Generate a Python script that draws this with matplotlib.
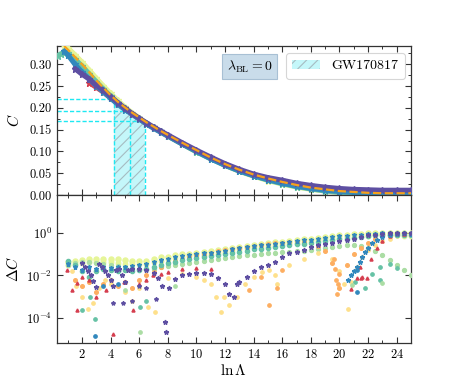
import numpy as np
import matplotlib
matplotlib.use('Agg')
import matplotlib.pyplot as plt
from matplotlib.ticker import MultipleLocator, AutoMinorLocator, FixedLocator, NullLocator, FormatStrFormatter
from matplotlib.patches import Patch

plt.rcParams.update({'font.family': 'serif', 'font.serif': ['cmr10'],
                     'mathtext.fontset': 'cm', 'axes.formatter.use_mathtext': True,
                     'axes.unicode_minus': False, 'hatch.linewidth': 0.8})
nan = np.nan

# ---------------- top panel data: C vs ln Lambda ----------------
xt = [0.3, 0.5, 0.75, 1.0, 1.5, 2.0, 2.5, 3.0, 3.5, 4.0, 4.5, 5.0, 5.5, 6.0, 6.5, 7.0, 7.5, 8.0,
      9.0, 10, 11, 12, 13, 14, 15, 16, 17, 18, 19, 20, 21, 22, 23, 24, 25]
c_fit = [nan, nan, 0.342, 0.334, 0.317, 0.300, 0.282, 0.263, 0.246, 0.229, 0.214, 0.201, 0.189, 0.178,
         0.167, 0.157, 0.147, 0.138, 0.120, 0.103, 0.086, 0.071, 0.058, 0.047, 0.038, 0.030, 0.023,
         0.017, 0.013, 0.009, 0.007, 0.005, 0.004, 0.004, 0.004]
c_yellowgreen = [nan, nan, 0.343, 0.338, 0.322, 0.305, 0.287, 0.268, 0.250, 0.233, 0.217, 0.202, 0.189,
                 0.177, 0.165, 0.155, 0.145, 0.135, 0.117, 0.099, 0.083, 0.068, 0.054, 0.043, 0.033,
                 0.025, 0.018, 0.013, 0.009, 0.006, 0.004, 0.003, 0.002, 0.002, 0.002]
c_orange = [nan, nan, nan, 0.341, 0.325, 0.308, 0.290, 0.271, 0.253, 0.236, 0.219, 0.204, nan, nan,
            nan, nan, nan, nan, nan, nan, nan, nan, nan, nan, nan, nan, nan,
            nan, nan, nan, nan, nan, nan, nan, nan]
c_teal = [0.320, 0.324, 0.326, 0.325, 0.312, 0.296, 0.278, 0.260, 0.243, 0.227, 0.212, 0.199, 0.187,
          0.176, 0.165, 0.155, 0.146, 0.136, 0.117, 0.099, 0.083, 0.068, 0.055, 0.044, 0.034, 0.026,
          0.019, 0.014, 0.009, 0.006, 0.004, 0.003, 0.002, 0.002, 0.002]
c_red = [nan, nan, nan, nan, nan, nan, 0.258, 0.247, 0.236, 0.223, 0.210, 0.197, 0.186, 0.175, 0.164,
         0.154, 0.145, 0.136, 0.118, 0.101, 0.085, 0.070, 0.057, 0.046, 0.037, 0.029, 0.022, 0.017,
         0.013, 0.010, 0.008, 0.007, 0.006, 0.006, 0.006]
c_blue = [nan, nan, 0.330, 0.322, 0.300, 0.282, 0.266, 0.250, 0.236, 0.222, 0.208, 0.196, 0.185, 0.174,
          0.163, 0.153, 0.144, 0.135, 0.117, 0.100, 0.083, 0.068, 0.055, 0.044, 0.035, 0.027, 0.020,
          0.015, 0.011, 0.008, 0.006, 0.005, 0.004, 0.004, 0.004]
c_purple = [nan, nan, nan, nan, 0.290, 0.277, 0.266, 0.252, 0.240, 0.226, 0.212, 0.199, 0.187, 0.176,
            0.166, 0.156, 0.147, 0.138, 0.120, 0.103, 0.087, 0.072, 0.059, 0.048, 0.040, 0.034, 0.027,
            0.022, 0.018, 0.015, 0.013, 0.012, 0.011, 0.011, 0.011]

# GW170817 band
gw_x = [4.23, 4.5, 5.0, 5.35, 5.5, 6.0, 6.39]
gw_c = [0.2205, 0.214, 0.201, 0.1935, 0.189, 0.178, 0.169]
gw_lines_x = [4.23, 5.35, 6.39]
gw_lines_c = [0.2205, 0.1935, 0.169]

# ---------------- bottom panel data: Delta C ----------------
xb = [1.0, 1.5, 2.0, 2.5, 3.0, 3.5, 4.0, 4.5, 5.0, 5.5, 6.0, 6.5, 7.0, 7.5, 8.0, 8.5, 9.0, 9.5,
      10.0, 10.5, 11.0, 11.5, 12.0, 12.5, 13.0, 13.5, 14.0, 14.5, 15.0, 15.5, 16.0, 16.5, 17.0,
      17.5, 18.0, 18.5, 19.0, 19.5, 20.0, 20.5, 21.0, 21.5, 22.0, 22.5, 23.0, 23.5, 24.0, 24.5, 25.0]
d_yellowgreen = [0.045, 0.050, 0.056, 0.060, 0.063, 0.063, 0.063, 0.060, 0.056, 0.050,
                 0.048, 0.050, 0.060, 0.071, 0.079, 0.089, 0.100, 0.107, 0.117, 0.129,
                 0.141, 0.158, 0.178, 0.200, 0.224, 0.251, 0.282, 0.309, 0.339, 0.372,
                 0.398, 0.437, 0.468, 0.513, 0.562, 0.617, 0.676, 0.724, 0.794, 0.851,
                 0.891, 0.955, 1.0, 1.047, 1.072, 1.072, 1.072, 1.047, 1.0]
d_yellowgreen2 = [0.032, 0.036, 0.040, 0.042, 0.045, 0.045, 0.042, 0.040, 0.036, 0.034,
                  0.034, 0.036, 0.042, 0.050, 0.058, 0.066, 0.074, 0.081, 0.089, 0.098,
                  0.107, 0.120, 0.135, 0.151, 0.170, 0.191, 0.214, 0.234, 0.257, 0.282,
                  0.302, 0.331, 0.355, 0.389, 0.427, 0.468, 0.513, 0.550, 0.603, 0.646,
                  0.676, 0.724, 0.759, 0.794, 0.813, 0.813, 0.794, 0.759, 0.708]
d_blue = [0.035, 0.025, 0.018, 0.025, 0.020, 0.025, 0.022, 0.025, 0.025, 0.028,
          0.032, 0.035, 0.042, 0.052, 0.063, 0.072, 0.083, 0.091, 0.100, 0.110,
          0.120, 0.135, 0.151, 0.170, 0.191, 0.214, 0.240, 0.263, 0.288, 0.316,
          0.347, 0.380, 0.417, 0.457, 0.501, 0.550, 0.603, 0.661, 0.708, 0.759,
          0.813, 0.871, 0.912, 0.955, 0.977, 1.0, 1.0, 0.977, 0.955]
d_teal = [0.050, 0.032, 0.016, 0.008, 0.016, 0.020, 0.018, 0.016, 0.018, 0.016,
          0.018, 0.020, 0.025, 0.032, 0.038, 0.045, 0.052, 0.060, 0.068, 0.076,
          0.085, 0.095, 0.107, 0.120, 0.135, 0.151, 0.170, 0.186, 0.204, 0.224,
          0.245, 0.269, 0.295, 0.324, 0.355, 0.389, 0.427, 0.468, 0.513, 0.562,
          0.617, 0.676, 0.741, 0.794, 0.832, 0.851, 0.851, 0.832, 0.794]
d_green = [0.032, 0.040, 0.045, 0.045, 0.040, 0.035, 0.032, 0.028, 0.025, 0.022,
           0.020, 0.020, 0.021, 0.024, 0.028, 0.032, 0.035, 0.040, 0.045, 0.050,
           0.056, 0.062, 0.068, 0.074, 0.081, 0.089, 0.098, 0.105, 0.112, 0.120,
           0.126, 0.132, 0.138, 0.145, 0.158, 0.178, 0.200, 0.224, 0.251, 0.269,
           0.275, 0.251, 0.200, 0.141, 0.089, 0.056, 0.032, 0.018, 0.010]
d_orange = [nan, 0.0063, 0.0032, 0.0050, 0.0016, 0.0040, 0.0063, 0.0032, 0.0050, 0.0025,
            0.0063, 0.010, 0.014, 0.025, 0.040, 0.050, 0.063, 0.076, 0.089, 0.105,
            0.120, 0.138, 0.158, 0.178, 0.200, 0.224, 0.251, 0.275, 0.302, 0.331,
            0.355, 0.380, 0.398, 0.380, 0.331, 0.251, 0.141, 0.040, 0.0025, 0.032,
            0.100, 0.200, 0.355, 0.525, 0.708, 0.851, 0.933, 0.955, 0.933]

x_purple = [2.0, 2.2, 2.4, 2.6, 2.8, 3.0, 3.2, 3.4, 3.6, 3.8, 4.0, 4.2, 4.4, 4.6, 4.8, 5.0,
            5.2, 5.5, 6.0, 6.5, 7.0, 7.3, 7.6, 7.8, 7.85, 8.1, 8.5, 9.0, 9.5, 10.0, 10.5, 11.0,
            11.5, 12.0, 12.3, 12.6, 12.8, 13.0, 13.5, 14.0, 14.5, 15.0, 15.5, 16.0, 16.5, 17.0,
            17.5, 18.0, 18.5, 19.0, 19.5, 20.0, 20.5, 21.0, 21.5, 22.0, 22.5, 23.0, 23.5, 24.0,
            24.5, 25.0]
d_purple = [0.040, 0.025, 0.016, 0.010, 0.0056, 0.0028, 0.035, 0.025, 0.016, 0.010, 0.0063, 0.0032,
            0.018, 0.020, 0.010, 0.0050, 0.018, 0.020, 0.020, 0.018, 0.0126, 0.0079, 0.0032,
            0.000063, 0.00002, 0.0025, 0.0071, 0.0105, 0.012, 0.0126, 0.0126, 0.0112, 0.0079,
            0.0040, 0.00126, 0.0010, 0.0040, 0.0050, 0.0089, 0.016, 0.024, 0.033, 0.045, 0.071,
            0.112, 0.132, 0.166, 0.224, 0.275, 0.316, 0.363, 0.417, 0.479, 0.562, 0.661, 0.794,
            0.871, 0.933, 0.977, 1.0, 1.0, 1.0]

x_blue2 = [20.6, 20.8, 21.0, 21.2, 21.4, 21.6, 21.8, 22.0, 22.3, 22.6, 23.0, 23.5, 24.0, 24.5, 25.0]
d_blue2 = [0.0063, 0.010, 0.016, 0.025, 0.045, 0.079, 0.126, 0.200, 0.331, 0.479, 0.661, 0.832,
           0.933, 0.977, 1.0]

x_yellow = [1.3, 1.6, 2.0, 2.4, 2.8, 3.2, 3.6, 4.0, 5.0, 5.5, 6.0, 6.6, 7.1, 8.0, 9.0, 10.0, 10.5,
            11.0, 11.4, 11.7, 11.9, 12.3, 12.8, 13.4, 14.0, 14.6, 15.1, 15.5, 15.6, 16.5, 17.5,
            18.5, 19.5, 20.0, 20.3, 20.6, 20.8, 21.2, 21.6, 22.0, 22.5, 23.0, 23.5, 24.0, 24.5, 25.0]
d_yellow = [0.016, 0.0032, 0.0010, 0.00025, 0.0005, 0.0025, 0.0063, 0.0040, 0.0016, 0.00063,
            0.0025, 0.00032, 0.00019, 0.0079, 0.0112, 0.0089, 0.0063, 0.0040, 0.0010, 0.00019,
            0.00095, 0.0004, 0.0010, 0.0040, 0.0085, 0.014, 0.018, 0.010, 0.0040, 0.032, 0.063,
            0.112, 0.063, 0.016, 0.0040, 0.00027, 0.005, 0.025, 0.079, 0.158, 0.282, 0.417, 0.562,
            0.708, 0.832, 0.891]

x_red = [0.93, 1.27, 1.62, 1.62, 2.0, 2.5, 2.97, 3.7, 4.18, 4.9, 5.58, 6.0, 6.5, 6.97, 7.5, 8.0,
         9.0, 10.0, 11.0, 20.8, 21.2, 21.4, 21.5, 21.6, 21.9, 22.2, 22.6, 23.0, 23.5, 24.0, 24.5, 25.0]
d_red = [0.018, 0.002, 0.0042, 0.00022, 0.008, 0.006, 0.001, 0.002, 0.000017, 0.005, 0.00022,
         0.004, 0.006, 0.010, 0.012, 0.015, 0.020, 0.022, 0.020, 0.0024, 0.0072, 0.026, 0.0072,
         0.008, 0.0072, 0.06, 0.2, 0.45, 0.75, 0.9, 0.95, 0.97]

x_teal_lo = [1.97, 2.55, 2.9, 6.05, 6.5, 21.1, 21.8, 22.3, 22.8, 22.8, 23.5, 24.0]
d_teal_lo = [0.00022, 0.001, 0.00009, 0.00032, 0.00063, 0.005, 0.0025, 0.012, 0.0063, 0.025, 0.035, 0.022]
x_blue_lo = [2.9, 3.5, 4.5, 21.2, 21.2]
d_blue_lo = [0.0000135, 0.003, 0.004, 0.018, 0.0017]
x_green_lo = [5.0, 6.05, 8.5, 20.9, 23.0]
d_green_lo = [0.002, 0.000021, 0.003, 0.0035, 0.0042]
x_purple_lo = [4.18, 4.88, 5.5, 6.0, 6.5, 7.2]
d_purple_lo = [0.0005, 0.0005, 0.0006, 0.003, 0.0025, 0.0008]
x_orange_lo = [13.7, 14.5, 15.1, 15.6, 16.0, 19.6, 19.7, 19.75, 19.8, 19.9, 20.0]
d_orange_lo = [0.002, 0.008, 0.0004, 0.0025, 0.018, 0.063, 0.02, 0.006, 0.0013, 0.004, 0.012]

# colours (Spectral)
RED, ORANGE, YELLOW = '#d53e4f', '#fdae61', '#fee08b'
YGREEN, GREEN, TEAL, BLUE, PURPLE = '#e6f598', '#abdda4', '#66c2a5', '#3288bd', '#5e4fa2'
CYAN = '#1ee8f2'
GWFACE = '#c4f7fa'
HATCHC = (0.62, 0.68, 0.70, 0.8)

fig = plt.figure(figsize=(4.57, 3.92), dpi=100)
ax1 = fig.add_axes([57 / 457, 197 / 392, 354 / 457, 149 / 392])
ax2 = fig.add_axes([57 / 457, 49.3 / 392, 354 / 457, 147.7 / 392])

# ---- top panel ----
ax1.fill_between(gw_x, 0, gw_c, facecolor=GWFACE, edgecolor=HATCHC,
                 hatch='///', linewidth=0, zorder=2)
for xv, cv in zip(gw_lines_x, gw_lines_c):
    ax1.plot([xv, xv], [0, cv], '--', color=CYAN, lw=1.0, dashes=(3, 1.5), zorder=2.5)
    ax1.plot([0.25, xv], [cv, cv], '--', color=CYAN, lw=1.0, dashes=(3, 1.5), zorder=2.5)

ax1.plot(xt, c_orange, '-', color=ORANGE, lw=1.6, solid_capstyle='round', zorder=3)
for vals, col in [(c_yellowgreen, YGREEN), (c_teal, TEAL),
                  (c_red, RED), (c_blue, BLUE), (c_purple, PURPLE)]:
    ax1.plot(xt, vals, '-', color=col, lw=3.6, solid_capstyle='round', zorder=3)
    ax1.plot(xt, vals, '*', color=col, ms=4.5, mec=col, zorder=3)
ax1.plot(xt, c_fit, '--', color='#f7a21b', lw=1.6, zorder=5)

ax1.set_xlim(0.25, 25)
ax1.set_ylim(0, 0.342)
ax1.yaxis.set_major_locator(MultipleLocator(0.05))
ax1.yaxis.set_minor_locator(AutoMinorLocator(2))
ax1.yaxis.set_major_formatter(FormatStrFormatter('%.2f'))
ax1.set_ylabel(r'$C$', fontsize=11, labelpad=6)
ax1.tick_params(labelbottom=False)

ax1.text(0.544, 0.862, r'$\lambda_{\rm BL}=0$', transform=ax1.transAxes, fontsize=10,
         ha='center', va='center', zorder=10,
         bbox=dict(boxstyle='square,pad=0.3', facecolor='#c9dcea', edgecolor='#a8c0d4', lw=0.8))
leg = ax1.legend(handles=[Patch(facecolor=GWFACE, edgecolor=HATCHC,
                                hatch='///', linewidth=0, label='GW170817')],
                 loc='upper right', bbox_to_anchor=(0.982, 0.95), fontsize=10, frameon=True,
                 borderaxespad=0, handlelength=2.0, borderpad=0.45)
leg.get_frame().set_edgecolor('#cccccc')
leg.get_frame().set_linewidth(0.8)

# ---- bottom panel ----
ms_small = 2.4
for xs, ds, col, mk, ms in [
        (xb, d_yellowgreen, YGREEN, 'o', 3.6), (xb, d_yellowgreen2, YGREEN, 'o', 3.2),
        (xb, d_green, GREEN, 'o', 2.8),
        (x_yellow, d_yellow, YELLOW, 'o', ms_small), (xb, d_orange, ORANGE, 'o', 2.6),
        (x_orange_lo, d_orange_lo, ORANGE, 'o', ms_small), (xb, d_teal, TEAL, 'o', 3.0),
        (x_teal_lo, d_teal_lo, TEAL, 'o', ms_small), (x_green_lo, d_green_lo, GREEN, 'o', ms_small),
        (x_red, d_red, RED, '^', 2.2), (xb, d_blue, BLUE, '*', 3.6),
        (x_blue2, d_blue2, BLUE, '*', 3.4), (x_blue_lo, d_blue_lo, BLUE, 'o', ms_small),
        (x_purple_lo, d_purple_lo, PURPLE, '*', 3.0), (x_purple, d_purple, PURPLE, '*', 3.4)]:
    ax2.plot(xs, ds, mk, color=col, mec=col, ms=ms, lw=0, zorder=3)

ax2.set_yscale('log')
ax2.set_xlim(0.25, 25)
ax2.set_ylim(6.5e-6, 65)
ax2.yaxis.set_major_locator(FixedLocator([1e-4, 1e-2, 1e0]))
ax2.yaxis.set_minor_locator(NullLocator())
ax2.set_ylabel(r'$\Delta C$', fontsize=11, labelpad=4)
ax2.set_xlabel(r'$\ln\Lambda$', fontsize=11, labelpad=2)

for ax in (ax1, ax2):
    ax.xaxis.set_major_locator(MultipleLocator(2))
    ax.xaxis.set_minor_locator(MultipleLocator(1))
    ax.tick_params(which='both', direction='in', top=True, right=True, labelsize=9,
                   color='#333333')
    ax.tick_params(which='major', length=4.5, width=0.8)
    ax.tick_params(which='minor', length=2.5, width=0.7)
    for s in ax.spines.values():
        s.set_color('#333333')
        s.set_linewidth(0.9)
ax2.set_xticks([2, 4, 6, 8, 10, 12, 14, 16, 18, 20, 22, 24])

fig.savefig('out.png', dpi=100)
